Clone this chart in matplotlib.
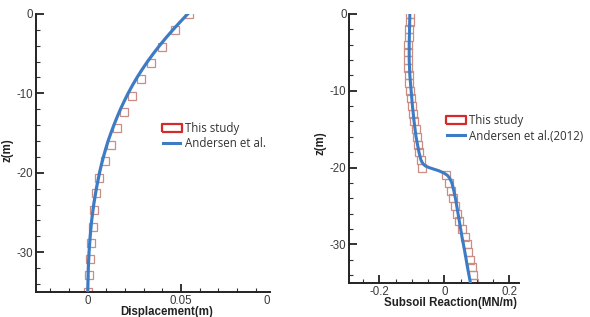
import matplotlib.pyplot as plt
import numpy as np
from matplotlib.lines import Line2D

# left panel: displacement
z_sq_left = [0, -2.06, -4.12, -6.18, -8.24, -10.3, -12.35, -14.4, -16.5, -18.5,
             -20.6, -22.6, -24.7, -26.8, -28.8, -30.9, -32.9, -35]
disp_sq = [0.0543, 0.0466, 0.0400, 0.0341, 0.0286, 0.0236, 0.0193, 0.0155, 0.0125,
           0.0093, 0.0063, 0.0043, 0.0036, 0.0030, 0.0020, 0.0013, 0.0006, 0.0004]
z_line_left = [0, -1, -2, -3, -4, -5, -6, -7, -8, -9, -10, -11, -12, -13, -14, -15,
               -16, -17, -18, -19, -20, -22, -24, -26, -28, -30, -32, -35]
disp_line = [0.0535, 0.0495, 0.0456, 0.0419, 0.0384, 0.0351, 0.0320, 0.0291, 0.0264,
             0.0239, 0.0216, 0.0195, 0.0175, 0.0157, 0.0140, 0.0124, 0.0109, 0.0096,
             0.0084, 0.0073, 0.0063, 0.0046, 0.0032, 0.0021, 0.0013, 0.0007, 0.0003, 0.0]

# right panel: subsoil reaction
z_sq_right = list(range(0, -36, -1))
react_sq = [-0.105, -0.106, -0.108, -0.110, -0.111, -0.111, -0.111, -0.111, -0.110,
            -0.108, -0.105, -0.102, -0.099, -0.096, -0.092, -0.088, -0.085, -0.081,
            -0.077, -0.073, -0.069, 0.005, 0.013, 0.020, 0.027, 0.033, 0.040, 0.046,
            0.055, 0.062, 0.068, 0.074, 0.079, 0.084, 0.089, 0.092]
z_line_right = [0, -2, -4, -6, -8, -10, -12, -14, -16, -18, -19, -19.5, -19.8, -20,
                -20.2, -20.4, -20.7, -21, -21.3, -21.7, -22, -23, -24, -25, -27, -29,
                -31, -33, -35]
react_line = [-0.106, -0.107, -0.108, -0.108, -0.106, -0.102, -0.098, -0.093, -0.087,
              -0.078, -0.072, -0.066, -0.058, -0.047, -0.033, -0.018, -0.002, 0.009,
              0.015, 0.020, 0.023, 0.029, 0.034, 0.038, 0.046, 0.054, 0.063, 0.071, 0.080]

blue = '#3d7cc4'
sq_col = '#c98d84'
rect = [(-1.1, -0.5), (1.1, -0.5), (1.1, 0.5), (-1.1, 0.5), (-1.1, -0.5)]

plt.rcParams['font.family'] = ['Liberation Sans', 'DejaVu Sans']
plt.rcParams['axes.unicode_minus'] = False
fig = plt.figure(figsize=(5.9, 3.17), dpi=100)

def style(ax):
    for s in ['top', 'right']:
        ax.spines[s].set_visible(False)
    for s in ['left', 'bottom']:
        ax.spines[s].set_linewidth(1.4)
        ax.spines[s].set_color('#222222')
    ax.tick_params(which='both', direction='in', color='#333333', labelsize=8.3,
                   labelcolor='#3a3a3a', pad=2)
    ax.tick_params(which='major', length=6, width=1.4)
    ax.tick_params(which='minor', length=3, width=0.8)
    ax.set_ylim(-35, 0)
    ax.set_yticks([0, -10, -20, -30])
    ax.set_yticks(np.arange(0, -35, -2), minor=True)

def legend(ax, txt, anchor):
    h = [Line2D([], [], ls='none', marker=rect, ms=14, mfc='none', mec='#d42a2a', mew=1.6),
         Line2D([], [], color=blue, lw=2.2)]
    lg = ax.legend(h, ['This study', txt], loc='upper left', bbox_to_anchor=anchor,
                   frameon=False, handlelength=1.5, handletextpad=0.35, labelspacing=0.2,
                   borderaxespad=0, borderpad=0,
                   prop={'family': 'Open Sans', 'size': 8.3})
    for t in lg.get_texts():
        t.set_color('#333333')

# left
ax1 = fig.add_axes([0.061, 0.079, 0.397, 0.877])
style(ax1)
ax1.plot(disp_line, z_line_left, color=blue, lw=2.3, zorder=3)
ax1.plot(disp_sq, z_sq_left, ls='none', marker='s', ms=5.2, mfc='none', mec=sq_col, mew=0.9)
ax1.set_xlim(-0.0277, 0.0977)
ax1.set_xticks([0, 0.05])
ax1.set_xticklabels(['0', '0.05'])
ax1.set_xticks(np.arange(-0.02, 0.1, 0.01), minor=True)
ax1.text(0.096, -0.01, '0', transform=ax1.get_xaxis_transform(), ha='center', va='top',
         fontsize=8.3, color='#3a3a3a')
legend(ax1, 'Andersen et al.', (0.543, 0.613))
fig.text(0.283, 0.016, 'Displacement(m)', ha='center', va='center', fontsize=8.3,
         fontweight='bold', color='#222222')
fig.text(0.012, 0.527, 'z(m)', ha='center', va='center', rotation=90, fontsize=8.3,
         fontweight='bold', color='#222222')

# right
ax2 = fig.add_axes([0.592, 0.108, 0.287, 0.848])
style(ax2)
ax2.plot(react_line, z_line_right, color=blue, lw=2.2, zorder=3)
ax2.plot(react_sq, z_sq_right, ls='none', marker='s', ms=5.2, mfc='none', mec=sq_col, mew=0.9)
ax2.set_xlim(-0.292, 0.228)
ax2.set_xticks([-0.2, 0, 0.2])
ax2.set_xticklabels(['-0.2', '0', '0.2'])
ax2.set_xticks(np.arange(-0.25, 0.21, 0.05), minor=True)
legend(ax2, 'Andersen et al.(2012)', (0.58, 0.627))
fig.text(0.763, 0.045, 'Subsoil Reaction(MN/m)', ha='center', va='center', fontsize=8.3,
         fontweight='bold', color='#222222')
fig.text(0.543, 0.55, 'z(m)', ha='center', va='center', rotation=90, fontsize=8.3,
         fontweight='bold', color='#222222')

plt.savefig('out.png', dpi=100)
